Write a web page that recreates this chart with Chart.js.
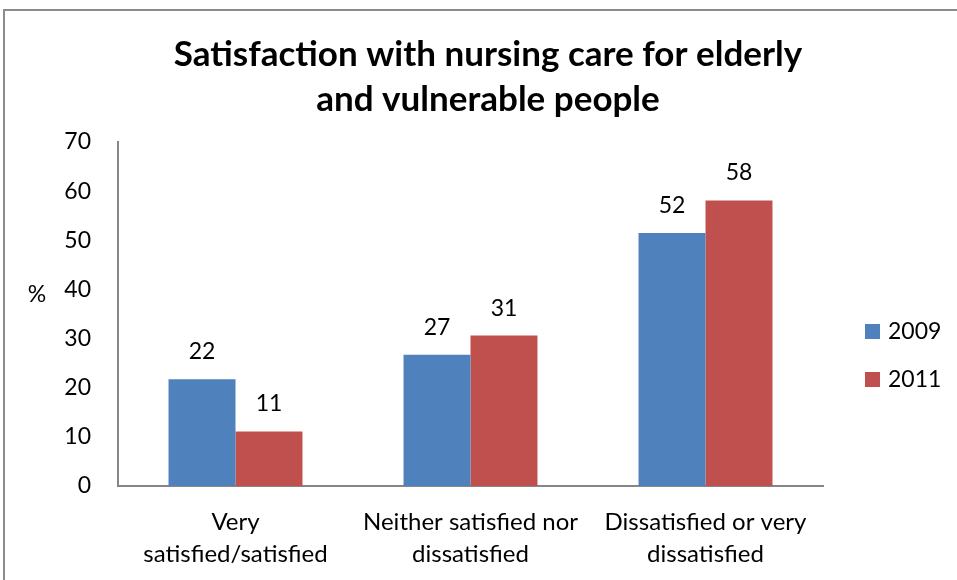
<!DOCTYPE html>
<html>
<head>
<meta charset="utf-8">
<script src="https://cdn.jsdelivr.net/npm/chart.js@4"></script>
<style>
  html, body { margin: 0; padding: 0; background: #ffffff; }
  #wrap { position: relative; width: 957px; height: 580px; overflow: hidden; }
  #frame { position: absolute; left: 3px; top: 9px; width: 1000px; height: 700px;
           border-left: 2px solid #8c8c8c; border-top: 2px solid #8c8c8c; }
  canvas { position: absolute; left: 0; top: 0; }
</style>
</head>
<body>
<div id="wrap">
  <div id="frame"></div>
  <canvas id="c" width="957" height="580"></canvas>
</div>
<script>
const titleLines = ["Satisfaction with nursing care for elderly", "and vulnerable people"];
const categories = [["Very", "satisfied/satisfied"], ["Neither satisfied nor", "dissatisfied"], ["Dissatisfied or very", "dissatisfied"]];
const seriesNames = ["2009", "2011"];
const values2009 = [21.7, 26.7, 51.5];
const values2011 = [11.1, 30.6, 58.1];
const labels2009 = [22, 27, 52];
const labels2011 = [11, 31, 58];
const yTicks = [0, 10, 20, 30, 40, 50, 60, 70];
const yUnit = "%";

const FONT = "Lato, 'Carlito', 'Open Sans', sans-serif";
const colors = ["#4F81BD", "#C0504D"];

const decor = {
  id: 'decor',
  afterDatasetsDraw(chart) {
    const ctx = chart.ctx;
    const lbls = [labels2009, labels2011];
    ctx.save();
    ctx.fillStyle = '#000';
    ctx.font = '23px ' + FONT;
    ctx.textAlign = 'center';
    ctx.textBaseline = 'alphabetic';
    chart.data.datasets.forEach((ds, i) => {
      chart.getDatasetMeta(i).data.forEach((el, j) => {
        ctx.fillText(String(lbls[i][j]), el.x, el.y - 20);
      });
    });
    ctx.restore();
  },
  afterDraw(chart) {
    const ctx = chart.ctx;
    ctx.save();
    // title
    ctx.fillStyle = '#000';
    ctx.font = 'bold 35px ' + FONT;
    ctx.textAlign = 'center';
    ctx.textBaseline = 'middle';
    ctx.fillText(titleLines[0], 488, 55);
    ctx.fillText(titleLines[1], 488, 100);
    // y unit
    ctx.font = '23px ' + FONT;
    ctx.fillText(yUnit, 37, 295);
    // legend
    ctx.textAlign = 'left';
    chart.data.datasets.forEach((ds, i) => {
      const y = 324 + i * 48;
      ctx.fillStyle = ds.backgroundColor;
      ctx.fillRect(865, y, 15, 15);
      ctx.fillStyle = '#000';
      ctx.fillText(ds.label, 888, y + 8);
    });
    ctx.restore();
  }
};

new Chart(document.getElementById('c'), {
  type: 'bar',
  data: {
    labels: categories,
    datasets: [
      { label: seriesNames[0], data: values2009, backgroundColor: colors[0], borderWidth: 0 },
      { label: seriesNames[1], data: values2011, backgroundColor: colors[1], borderWidth: 0 }
    ]
  },
  options: {
    responsive: false,
    animation: false,
    events: [],
    layout: { padding: { top: 142, right: 134, bottom: 0, left: 0 } },
    datasets: { bar: { categoryPercentage: 0.57, barPercentage: 1.0 } },
    plugins: { legend: { display: false }, title: { display: false }, tooltip: { enabled: false } },
    scales: {
      x: {
        grid: { display: false, drawTicks: false },
        border: { display: true, color: '#868686', width: 2 },
        ticks: { color: '#000', font: { family: FONT, size: 24, lineHeight: 1.34 }, padding: 20, maxRotation: 0, autoSkip: false },
        afterFit(scale) { scale.height = 94; }
      },
      y: {
        min: 0, max: 70,
        afterBuildTicks(scale) { scale.ticks = yTicks.map(v => ({ value: v })); },
        grid: { display: false, drawTicks: false },
        border: { display: true, color: '#868686', width: 2 },
        ticks: { color: '#000', font: { family: FONT, size: 23 }, padding: 27 },
        afterFit(scale) { scale.width = 118; }
      }
    }
  },
  plugins: [decor]
});
</script>
</body>
</html>
